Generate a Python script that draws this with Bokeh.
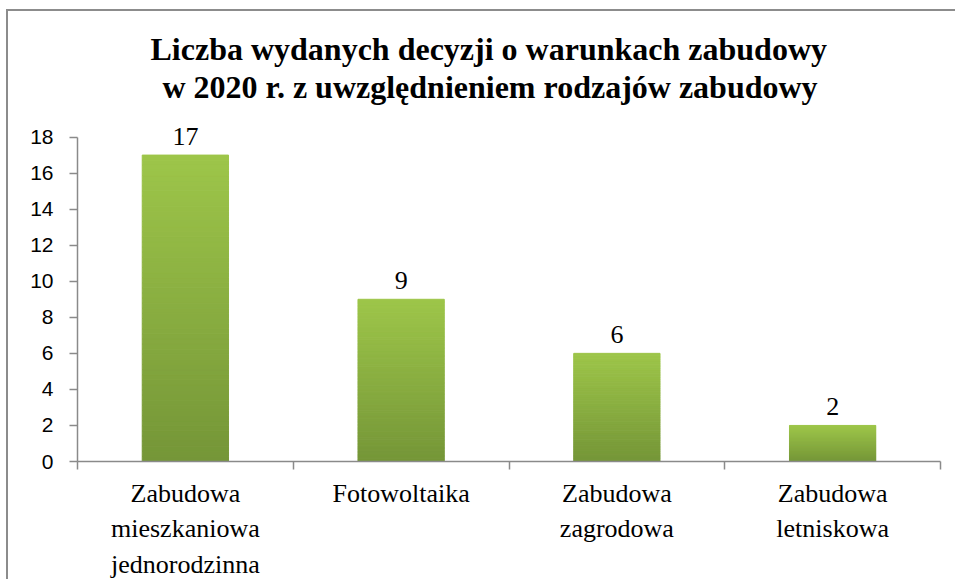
from bokeh.plotting import figure
from bokeh.models import Range1d, FixedTicker, Title, ColumnDataSource, LabelSet
from bokeh.embed import file_html
from bokeh.resources import INLINE

# ---- data ----
categories = ["Zabudowa\nmieszkaniowa\njednorodzinna", "Fotowoltaika",
              "Zabudowa\nzagrodowa", "Zabudowa\nletniskowa"]
values = [17, 9, 6, 2]
y_ticks = [0, 2, 4, 6, 8, 10, 12, 14, 16, 18]
title_lines = ["Liczba wydanych decyzji o warunkach zabudowy",
               "w 2020 r. z uwzględnieniem rodzajów zabudowy"]

SERIF = "Liberation Serif"
SANS = "Liberation Sans"
AXIS_COLOR = "#8a8a8a"
TOP_RGB = (158, 198, 74)
BOT_RGB = (117, 150, 56)

n = len(categories)
xs = [i + 0.5 for i in range(n)]
y_max = y_ticks[-1]

p = figure(width=949, height=570, output_backend="svg", toolbar_location=None,
           x_range=Range1d(0, n), y_range=Range1d(0, y_max * 359 / 326.25),
           min_border_left=69, min_border_right=17, min_border_top=93,
           min_border_bottom=118)
p.styles = {"margin-left": "6px", "margin-top": "9px",
            "border-left": "2px solid #8c8c8c", "border-top": "2px solid #8c8c8c"}
p.outline_line_color = None
p.xgrid.visible = False
p.ygrid.visible = False
p.background_fill_color = "white"
p.border_fill_color = "white"

# gradient bars built from strips
steps = 60
sx, sb, st, sc = [], [], [], []
for x, v in zip(xs, values):
    for k in range(steps):
        f = (k + 0.5) / steps
        r = int(BOT_RGB[0] + (TOP_RGB[0] - BOT_RGB[0]) * f)
        g = int(BOT_RGB[1] + (TOP_RGB[1] - BOT_RGB[1]) * f)
        b = int(BOT_RGB[2] + (TOP_RGB[2] - BOT_RGB[2]) * f)
        sx.append(x)
        sb.append(v * k / steps)
        st.append(v * (k + 1) / steps)
        sc.append("#%02x%02x%02x" % (r, g, b))
strips = ColumnDataSource(dict(x=sx, bottom=sb, top=st, color=sc))
p.vbar(x="x", bottom="bottom", top="top", width=0.4, source=strips,
       fill_color="color", line_color="color", line_width=1)

# value labels
lab_src = ColumnDataSource(dict(x=xs, y=values, t=[str(v) for v in values]))
p.add_layout(LabelSet(x="x", y="y", text="t", source=lab_src, y_offset=10,
                      text_align="center", text_baseline="bottom",
                      text_font=SERIF, text_font_size="26px", text_color="black"))

# axes
xa = p.xaxis[0]
xa.ticker = FixedTicker(ticks=xs, minor_ticks=list(range(n + 1)))
xa.major_label_overrides = {x: c for x, c in zip(xs, categories)}
xa.major_tick_line_color = None
xa.minor_tick_line_color = AXIS_COLOR
xa.minor_tick_line_width = 1.5
xa.minor_tick_out = 8
xa.minor_tick_in = 0
xa.axis_line_color = AXIS_COLOR
xa.axis_line_width = 1.5
xa.major_label_text_font = SERIF
xa.major_label_text_font_size = "26px"
xa.major_label_text_color = "black"
xa.major_label_text_line_height = 1.23
xa.major_label_standoff = 9

ya = p.yaxis[0]
ya.ticker = FixedTicker(ticks=y_ticks)
ya.bounds = (0, y_max)
ya.minor_tick_line_color = None
ya.major_tick_line_color = AXIS_COLOR
ya.major_tick_line_width = 1.5
ya.major_tick_out = 8
ya.major_tick_in = 0
ya.axis_line_color = AXIS_COLOR
ya.axis_line_width = 1.5
ya.major_label_text_font = SANS
ya.major_label_text_font_size = "21px"
ya.major_label_text_color = "black"
ya.major_label_standoff = 16

# title (two lines; first added sits closest to the frame)
for line, off in ((title_lines[1], 85), (title_lines[0], 73)):
    p.add_layout(Title(text=line, align="left", offset=off, standoff=0,
                       text_font=SERIF, text_font_style="bold",
                       text_font_size="32px", text_color="black"), "above")

open("out.html", "w").write(file_html(p, INLINE))
